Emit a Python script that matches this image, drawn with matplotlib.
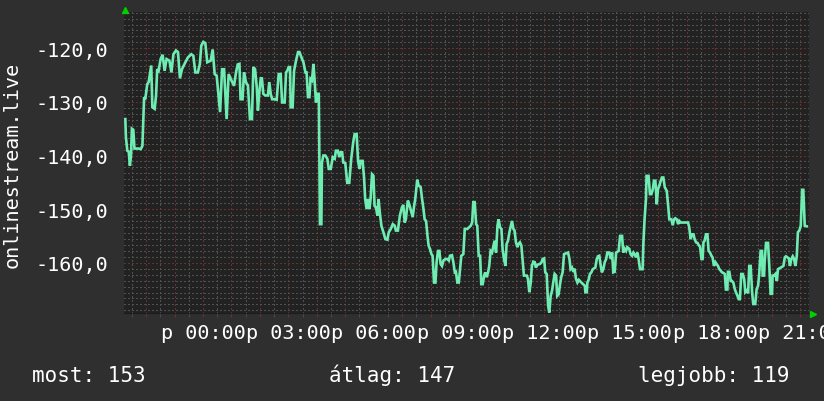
import numpy as np
import matplotlib.pyplot as plt
from matplotlib.ticker import MultipleLocator, FuncFormatter
from matplotlib.transforms import offset_copy

# hours relative to 00:00 of the day, and the measured level
hours = [
    -2.73, -2.71, -2.66, -2.61, -2.57, -2.53, -2.50, -2.45, -2.41, -2.27,
    -2.19, -2.13, -2.07, -2.03, -1.96, -1.91, -1.82, -1.78, -1.70, -1.65,
    -1.61, -1.56, -1.49, -1.42, -1.35, -1.28, -1.18, -1.11, -1.04, -0.95,
    -0.88, -0.81, -0.74, -0.62, -0.53, -0.41, -0.34, -0.27, -0.18, -0.11,
    -0.06, 0.01, 0.08, 0.15, 0.27, 0.34, 0.41, 0.48, 0.60, 0.67,
    0.74, 0.83, 0.90, 1.00, 1.09,
    1.16, 1.22, 1.28, 1.32, 1.39, 1.44, 1.51, 1.58, 1.65, 1.72,
    1.77, 1.83, 1.89, 1.93, 1.98, 2.03, 2.07, 2.12, 2.19, 2.28,
    2.33, 2.38, 2.43, 2.52, 2.59, 2.66, 2.73, 2.78, 2.87, 2.92,
    2.96, 3.01, 3.06, 3.08, 3.15, 3.20, 3.27, 3.34, 3.39, 3.46,
    3.53, 3.60, 3.64, 3.69, 3.74, 3.78, 3.83, 3.88, 3.92, 3.97,
    4.02, 4.07, 4.11, 4.16, 4.18, 4.23, 4.30, 4.37, 4.42, 4.49,
    4.56, 4.63, 4.67, 4.74, 4.79, 4.84, 4.89, 4.93, 5.00, 5.07,
    5.14, 5.21,
    5.28, 5.33, 5.40, 5.45, 5.50, 5.54, 5.61, 5.66, 5.70, 5.75,
    5.80, 5.85, 5.89, 5.94, 5.99, 6.03, 6.08, 6.13, 6.17, 6.22,
    6.27, 6.34, 6.41, 6.48, 6.53, 6.60, 6.67, 6.74, 6.78, 6.85,
    6.92, 6.99, 7.04, 7.09, 7.13, 7.20, 7.25, 7.32, 7.37, 7.42,
    7.46, 7.53, 7.58, 7.65, 7.70, 7.75, 7.79, 7.84, 7.89, 7.93,
    7.98, 8.03, 8.07, 8.12, 8.17, 8.21, 8.26, 8.31, 8.35, 8.40,
    8.45, 8.52, 8.59, 8.64, 8.68, 8.75, 8.80, 8.85, 8.89, 8.94,
    8.99, 9.03, 9.08, 9.15, 9.20, 9.29,
    9.41, 9.46, 9.50, 9.55, 9.60, 9.64, 9.69, 9.74, 9.78, 9.83,
    9.88, 9.92, 9.97, 10.02, 10.06, 10.11, 10.16, 10.21, 10.25, 10.30,
    10.35, 10.39, 10.44, 10.49, 10.53, 10.58, 10.63, 10.67, 10.72, 10.77,
    10.81, 10.86, 10.91, 10.95, 11.00, 11.05, 11.09, 11.14, 11.19, 11.24,
    11.28, 11.38, 11.42, 11.47, 11.52, 11.56, 11.61, 11.66, 11.70, 11.75,
    11.85, 11.89, 11.94, 11.99, 12.03, 12.08, 12.13, 12.17, 12.22, 12.27,
    12.31, 12.36, 12.41, 12.45, 12.50, 12.55, 12.59, 12.64, 12.69, 12.78,
    12.83, 12.88, 12.92, 12.97, 13.02, 13.06, 13.11, 13.16, 13.21, 13.30,
    13.42,
    13.44, 13.49, 13.51, 13.56, 13.60, 13.65, 13.70, 13.79, 13.84, 13.88,
    13.93, 13.98, 14.02, 14.07, 14.12, 14.17, 14.21, 14.28, 14.33, 14.38,
    14.42, 14.47, 14.52, 14.61, 14.66, 14.73, 14.77, 14.82, 14.87, 14.91,
    14.98, 15.03, 15.08, 15.13, 15.17, 15.22, 15.27, 15.31, 15.36, 15.45,
    15.48, 15.52, 15.57, 15.59, 15.66, 15.71, 15.76, 15.81, 15.85, 15.90,
    15.95, 15.99, 16.04, 16.09, 16.13, 16.18, 16.23, 16.30, 16.35, 16.39,
    16.46, 16.51, 16.56, 16.60, 16.65, 16.70, 16.74, 16.79, 16.91, 17.05,
    17.09, 17.14, 17.19, 17.24, 17.28, 17.33, 17.38, 17.42, 17.47, 17.52,
    17.56, 17.59, 17.63, 17.68, 17.73, 17.77, 17.82, 17.87, 17.91, 17.96,
    18.01, 18.05, 18.10, 18.15, 18.20, 18.24, 18.29, 18.34, 18.38, 18.43,
    18.45, 18.50, 18.55, 18.59, 18.64, 18.69, 18.73, 18.78, 18.83, 18.87,
    18.92, 18.97, 19.02, 19.06, 19.11, 19.16, 19.20, 19.25, 19.30, 19.34,
    19.41, 19.46, 19.51, 19.55, 19.60, 19.65, 19.67, 19.72, 19.74, 19.79,
    19.86, 19.91, 19.95, 20.00, 20.02, 20.07, 20.12, 20.17, 20.21, 20.31,
    20.40, 20.45, 20.49, 20.59, 20.63, 20.68, 20.73, 20.77, 20.82, 20.87,
    20.91, 20.96, 21.01, 21.06, 21.10, 21.15, 21.22,
]

level = [
    -133.2, -136.6, -139.1, -139.3, -141.9, -140.0, -135.0, -135.2, -138.7, -138.7,
    -138.8, -138.2, -129.1, -129.5, -126.7, -126.3, -123.2, -131.0, -131.3, -128.8,
    -123.9, -124.2, -122.0, -121.2, -124.2, -122.0, -122.3, -124.5, -121.1, -120.4,
    -120.7, -125.6, -123.9, -122.6, -121.7, -121.1, -121.4, -124.5, -124.5, -122.9,
    -119.5, -118.8, -119.0, -122.6, -122.3, -120.2, -124.8, -125.1, -131.9, -123.9,
    -123.9, -133.2, -124.8, -126.0, -127.0,
    -124.5, -123.0, -122.9, -129.5, -129.5, -124.5, -126.3, -127.0, -133.2, -133.2,
    -123.5, -123.9, -127.3, -131.6, -128.2, -125.6, -125.6, -128.5, -128.8, -128.8,
    -126.3, -128.5, -129.5, -129.5, -129.6, -124.8, -124.8, -130.1, -130.1, -124.5,
    -124.2, -123.5, -123.5, -131.0, -131.0, -124.2, -122.3, -120.7, -120.7, -121.7,
    -122.6, -124.5, -124.5, -129.1, -129.1, -125.7, -126.0, -122.9, -125.7, -130.1,
    -128.5, -128.5, -152.8, -152.8, -141.3, -140.0, -140.0, -140.6, -142.5, -142.5,
    -140.3, -140.6, -139.1, -139.1, -140.3, -139.4, -139.4, -141.3, -141.4, -145.1,
    -145.1, -140.6,
    -137.5, -136.0, -136.0, -141.0, -142.5, -141.0, -141.0, -144.1, -148.1, -150.0,
    -148.1, -150.0, -148.1, -143.5, -143.8, -149.4, -149.7, -151.2, -148.1, -150.9,
    -153.1, -154.3, -155.6, -155.7, -154.3, -153.7, -152.8, -153.1, -154.0, -154.0,
    -151.2, -149.7, -149.2, -152.5, -151.9, -148.4, -149.1, -150.5, -151.5, -149.4,
    -148.1, -144.5, -145.6, -145.9, -148.1, -150.0, -151.9, -152.2, -155.0, -156.8,
    -157.5, -158.4, -158.7, -163.7, -163.7, -159.9, -157.8, -157.8, -160.2, -160.6,
    -159.6, -159.3, -159.3, -159.6, -158.7, -158.6, -159.9, -161.8, -161.7, -163.7,
    -163.7, -161.5, -158.7, -158.4, -153.7, -153.7,
    -153.1, -152.5, -148.7, -148.7, -152.8, -153.1, -158.7, -158.7, -164.0, -164.0,
    -162.4, -161.8, -162.7, -161.8, -160.6, -157.8, -158.1, -156.8, -155.9, -158.1,
    -153.1, -151.9, -153.4, -153.7, -157.5, -159.3, -160.6, -156.5, -155.9, -154.3,
    -153.4, -152.2, -153.7, -154.0, -156.2, -157.1, -156.5, -156.2, -156.8, -159.9,
    -162.4, -162.4, -163.0, -165.5, -163.7, -160.6, -159.8, -159.9, -160.9, -160.4,
    -160.2, -160.0, -159.3, -159.2, -161.8, -162.1, -168.0, -169.3, -166.2, -165.2,
    -163.7, -162.1, -162.4, -166.2, -165.9, -164.0, -162.7, -161.8, -158.4, -158.2,
    -158.1, -159.3, -161.2, -160.9, -161.7, -161.1, -163.0, -163.7, -163.2, -163.7,
    -164.3,
    -165.5, -165.5, -163.7, -163.1, -162.1, -161.8, -161.2, -160.9, -159.3, -158.8,
    -158.7, -160.6, -161.8, -161.2, -159.9, -159.3, -158.1, -158.1, -159.3, -158.1,
    -161.8, -161.7, -158.1, -157.8, -155.0, -155.0, -158.1, -157.4, -157.8, -157.1,
    -157.4, -158.4, -158.7, -158.1, -158.4, -159.0, -158.1, -159.3, -161.2, -161.2,
    -156.2, -151.9, -148.1, -143.8, -143.8, -147.2, -147.2, -146.3, -144.7, -144.7,
    -149.1, -146.3, -145.6, -144.7, -144.1, -144.1, -145.9, -146.6, -149.4, -151.9,
    -151.9, -153.0, -151.9, -151.7, -151.9, -152.8, -152.2, -152.5, -152.5, -152.5,
    -153.4, -155.6, -154.7, -154.7, -155.6, -156.2, -156.3, -156.7, -157.0, -159.3,
    -159.3, -156.2, -155.9, -154.7, -154.7, -157.8, -158.1, -158.7, -159.0, -160.6,
    -159.9, -160.2, -160.6, -161.2, -161.5, -161.8, -161.9, -162.1, -165.0, -165.0,
    -161.7, -161.7, -163.4, -163.4, -163.7, -164.9, -165.5, -166.1, -166.8, -166.8,
    -162.1, -162.1, -163.0, -165.5, -165.2, -165.7, -160.6, -160.6, -165.5, -167.7,
    -167.7, -164.9, -164.3, -162.1, -157.8, -157.8, -162.4, -162.4, -159.9, -156.3,
    -156.3, -161.2, -165.8, -165.8, -162.4, -162.4, -162.1, -163.4, -161.2, -160.9,
    -160.6, -159.0, -158.8, -159.2, -160.6, -159.3, -158.8, -159.2, -160.6, -158.8,
    -154.3, -154.0, -153.1, -146.4, -146.4, -153.1, -153.2,
]

y_ticks = [-160, -150, -140, -130, -120]
y_tick_labels = ['-160,0', '-150,0', '-140,0', '-130,0', '-120,0']
x_label_hours = [0, 3, 6, 9, 12, 15, 18, 21]
x_tick_labels = ['p 00:00', 'p 03:00', 'p 06:00', 'p 09:00',
                 'p 12:00', 'p 15:00', 'p 18:00', 'p 21:00']
y_title = 'onlinestream.live'
legend_names = ['most', 'átlag', 'legjobb']
legend_values = [153, 147, 119]

hours = np.array(hours)
level = np.array(level)
assert len(hours) == len(level)

BG = '#2f2f2f'
PLOT_BG = '#222222'
LINE = '#6eecb2'
RED = '#643131'
GREY = '#505050'
FONT = 'DejaVu Sans Mono'

fig = plt.figure(figsize=(8.24, 4.02), dpi=100, facecolor=BG)
ax = fig.add_axes([0.1499, 0.2189, 0.8319, 0.7480])
ax.set_facecolor(PLOT_BG)

ax.plot(hours, level, color=LINE, lw=1.9, solid_joinstyle='miter', zorder=3)

ax.set_xlim(-2.794, 21.30)
ax.set_ylim(-169.38, -113.28)

# grid: red on the hour / every 10, grey in between
ax.xaxis.set_major_locator(MultipleLocator(1))
ax.xaxis.set_minor_locator(MultipleLocator(0.5))
ax.set_yticks(y_ticks)
ax.set_yticklabels(y_tick_labels)
ax.yaxis.set_minor_locator(MultipleLocator(10 / 9))

label_for = dict(zip(x_label_hours, x_tick_labels))
ax.xaxis.set_major_formatter(FuncFormatter(
    lambda v, pos: label_for.get(int(round(v)), '')))

ax.set_axisbelow(True)
ax.grid(which='major', color=RED, linestyle=(0, (1, 2)), linewidth=0.75,
        antialiased=False)
ax.grid(which='minor', color=GREY, linestyle=(0, (1, 2)), linewidth=0.75,
        antialiased=False)

for side in ['top', 'right', 'left']:
    ax.spines[side].set_visible(False)
ax.spines['bottom'].set_color('#1c1c1c')

ax.tick_params(axis='x', which='major', length=3, color=RED, pad=4,
               labelsize=14.5, labelcolor='white')
ax.tick_params(axis='x', which='minor', length=3, color=GREY)
ax.tick_params(axis='y', which='both', length=0, pad=11,
               labelsize=14.5, labelcolor='white')
for lab in ax.get_xticklabels() + ax.get_yticklabels():
    lab.set_fontfamily(FONT)

fig.text(12 / 824, 0.5896, y_title, rotation=90, ha='center', va='center',
         color='white', fontsize=14.5, family=FONT)

# small green arrows at the axis ends
up = offset_copy(ax.transAxes, fig=fig, x=1.5, y=2.8, units='dots')
right = offset_copy(ax.transAxes, fig=fig, x=4, y=-0.7, units='dots')
ax.plot([0], [1], marker='^', ms=5, color='#00d000', transform=up,
        clip_on=False, zorder=5)
ax.plot([1], [0], marker='>', ms=5, color='#00d000', transform=right,
        clip_on=False, zorder=5)

legend_x = [32 / 824, 329 / 824, 638 / 824]
for name, val, xpos in zip(legend_names, legend_values, legend_x):
    fig.text(xpos, 0.0498, '{}: {}'.format(name, val), color='white',
             fontsize=15, family=FONT, ha='left', va='baseline')

fig.savefig('out.png', dpi=100, facecolor=BG)
